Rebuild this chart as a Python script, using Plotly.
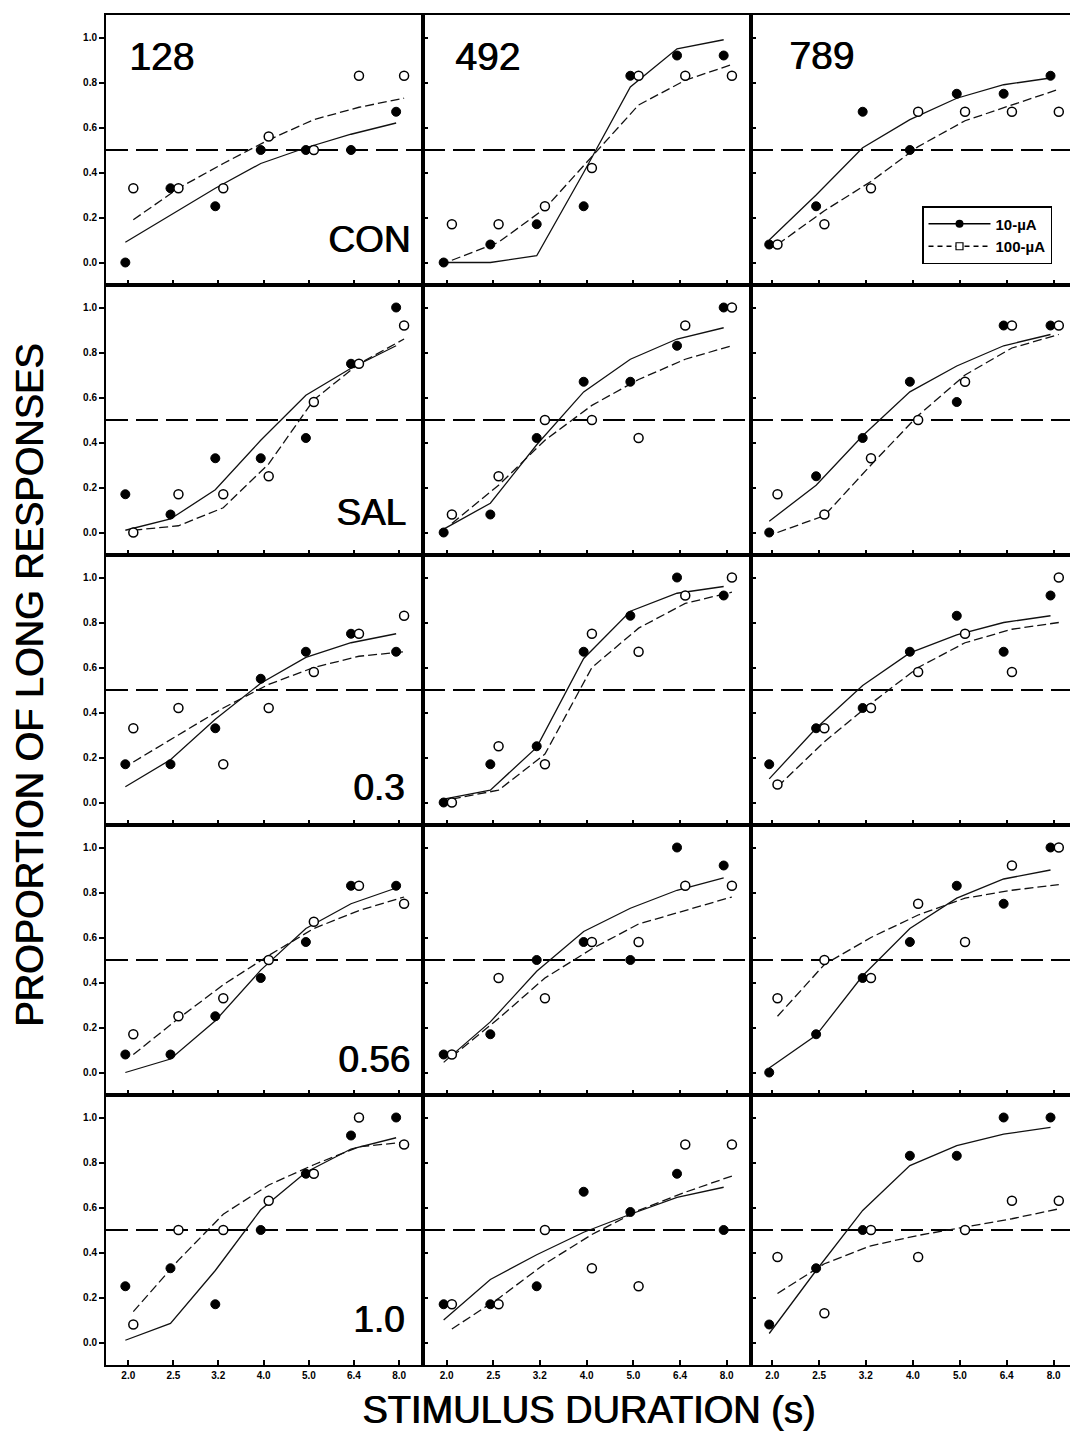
import math
import plotly.graph_objects as go
from plotly.subplots import make_subplots

# ---------------- data ----------------
durations = [2.0, 2.52, 3.17, 4.0, 5.04, 6.35, 8.0]
duration_ticktext = ["2.0", "2.5", "3.2", "4.0", "5.0", "6.4", "8.0"]
prop_ticks = [0.0, 0.2, 0.4, 0.6, 0.8, 1.0]
prop_ticktext = ["0.0", "0.2", "0.4", "0.6", "0.8", "1.0"]
rats = ["128", "492", "789"]
conditions = ["CON", "SAL", "0.3", "0.56", "1.0"]
series_names = ["10-µA", "100-µA"]
criterion = 0.5
bisection_point = 4.0

# observed proportions, per condition -> [rat 128, rat 492, rat 789]
obs10_CON = [[0.0, 0.33, 0.25, 0.5, 0.5, 0.5, 0.67],
             [0.0, 0.08, 0.17, 0.25, 0.83, 0.92, 0.92],
             [0.08, 0.25, 0.67, 0.5, 0.75, 0.75, 0.83]]
obs100_CON = [[0.33, 0.33, 0.33, 0.56, 0.5, 0.83, 0.83],
              [0.17, 0.17, 0.25, 0.42, 0.83, 0.83, 0.83],
              [0.08, 0.17, 0.33, 0.67, 0.67, 0.67, 0.67]]
fit10_CON = [[0.09, 0.21, 0.33, 0.44, 0.51, 0.57, 0.62],
             [0.0, 0.0, 0.03, 0.40, 0.78, 0.95, 0.99],
             [0.10, 0.30, 0.51, 0.635, 0.73, 0.79, 0.82]]
fit100_CON = [[0.19, 0.33, 0.44, 0.545, 0.635, 0.69, 0.73],
              [0.01, 0.09, 0.24, 0.47, 0.70, 0.81, 0.88],
              [0.08, 0.23, 0.36, 0.515, 0.63, 0.70, 0.77]]

obs10_SAL = [[0.17, 0.08, 0.33, 0.33, 0.42, 0.75, 1.0],
             [0.0, 0.08, 0.42, 0.67, 0.67, 0.83, 1.0],
             [0.0, 0.25, 0.42, 0.67, 0.58, 0.92, 0.92]]
obs100_SAL = [[0.0, 0.17, 0.17, 0.25, 0.58, 0.75, 0.92],
              [0.08, 0.25, 0.5, 0.5, 0.42, 0.92, 1.0],
              [0.17, 0.08, 0.33, 0.5, 0.67, 0.92, 0.92]]
fit10_SAL = [[0.01, 0.06, 0.19, 0.41, 0.61, 0.73, 0.83],
             [0.015, 0.13, 0.39, 0.625, 0.77, 0.86, 0.91],
             [0.05, 0.21, 0.43, 0.625, 0.74, 0.83, 0.88]]
fit100_SAL = [[0.01, 0.03, 0.11, 0.305, 0.59, 0.75, 0.86],
              [0.04, 0.21, 0.41, 0.565, 0.68, 0.77, 0.83],
              [0.0, 0.075, 0.30, 0.52, 0.70, 0.82, 0.88]]

obs10_03 = [[0.17, 0.17, 0.33, 0.55, 0.67, 0.75, 0.67],
            [0.0, 0.17, 0.25, 0.67, 0.83, 1.0, 0.92],
            [0.17, 0.33, 0.42, 0.67, 0.83, 0.67, 0.92]]
obs100_03 = [[0.33, 0.42, 0.17, 0.42, 0.58, 0.75, 0.83],
             [0.0, 0.25, 0.17, 0.75, 0.67, 0.92, 1.0],
             [0.08, 0.33, 0.42, 0.58, 0.75, 0.58, 1.0]]
fit10_03 = [[0.07, 0.19, 0.37, 0.53, 0.645, 0.71, 0.75],
            [0.015, 0.055, 0.245, 0.64, 0.85, 0.93, 0.96],
            [0.105, 0.33, 0.52, 0.665, 0.745, 0.80, 0.83]]
fit100_03 = [[0.18, 0.30, 0.42, 0.525, 0.60, 0.65, 0.67],
             [0.015, 0.055, 0.215, 0.60, 0.775, 0.885, 0.935],
             [0.07, 0.27, 0.44, 0.60, 0.71, 0.77, 0.80]]

obs10_056 = [[0.08, 0.08, 0.25, 0.42, 0.58, 0.83, 0.83],
             [0.08, 0.17, 0.5, 0.58, 0.5, 1.0, 0.92],
             [0.0, 0.17, 0.42, 0.58, 0.83, 0.75, 1.0]]
obs100_056 = [[0.17, 0.25, 0.33, 0.5, 0.67, 0.83, 0.75],
              [0.08, 0.42, 0.33, 0.58, 0.58, 0.83, 0.83],
              [0.33, 0.5, 0.42, 0.75, 0.58, 0.92, 1.0]]
fit10_056 = [[0.0, 0.06, 0.23, 0.455, 0.64, 0.75, 0.82],
             [0.045, 0.225, 0.45, 0.627, 0.73, 0.81, 0.865],
             [0.02, 0.165, 0.43, 0.64, 0.775, 0.86, 0.90]]
fit100_056 = [[0.08, 0.24, 0.39, 0.52, 0.64, 0.72, 0.78],
              [0.07, 0.24, 0.42, 0.55, 0.66, 0.72, 0.78],
              [0.25, 0.48, 0.60, 0.70, 0.775, 0.81, 0.835]]

obs10_10 = [[0.25, 0.33, 0.17, 0.5, 0.75, 0.92, 1.0],
            [0.17, 0.17, 0.25, 0.67, 0.58, 0.75, 0.5],
            [0.08, 0.33, 0.5, 0.83, 0.83, 1.0, 1.0]]
obs100_10 = [[0.08, 0.5, 0.5, 0.63, 0.75, 1.0, 0.88],
             [0.17, 0.17, 0.5, 0.33, 0.25, 0.88, 0.88],
             [0.38, 0.13, 0.5, 0.38, 0.5, 0.63, 0.63]]
fit10_10 = [[0.01, 0.085, 0.32, 0.59, 0.757, 0.86, 0.91],
            [0.10, 0.28, 0.39, 0.49, 0.57, 0.645, 0.69],
            [0.04, 0.32, 0.587, 0.786, 0.875, 0.926, 0.956]]
fit100_10 = [[0.137, 0.366, 0.57, 0.70, 0.79, 0.87, 0.89],
             [0.06, 0.196, 0.35, 0.48, 0.587, 0.668, 0.74],
             [0.218, 0.35, 0.43, 0.476, 0.513, 0.55, 0.594]]

obs10 = [obs10_CON, obs10_SAL, obs10_03, obs10_056, obs10_10]
obs100 = [obs100_CON, obs100_SAL, obs100_03, obs100_056, obs100_10]
fit10 = [fit10_CON, fit10_SAL, fit10_03, fit10_056, fit10_10]
fit100 = [fit100_CON, fit100_SAL, fit100_03, fit100_056, fit100_10]

# ---------------- layout geometry (pixels / domain fractions) ----------------
W, H = 1070, 1443
col_px = [(106, 423), (423, 751), (751, 1070)]
row_top0, row_h = 15, 270
col_steps = [(-0.494, 6.53), (-0.508, 6.52), (-0.454, 6.35)]
lstep = math.log10(2) / 3
lbase = math.log10(2)
shift10 = 0.985   # filled symbols drawn slightly left
shift100 = 1.026  # open symbols drawn slightly right
rat_label_pos = [(0.066, 0.845), (0.090, 0.845), (0.112, 0.85)]
cond_label_pos = [(0.966, 0.085), (0.953, 0.074), (0.946, 0.056),
                  (0.965, 0.048), (0.946, 0.085)]

FONT = "Liberation Sans, Arial, Helvetica, sans-serif"
HEAVY = "0.9px 0px 0px black"

fig = make_subplots(rows=5, cols=3, horizontal_spacing=0, vertical_spacing=0)

for r in range(5):
    for c in range(3):
        k = r * 3 + c + 1
        xs10 = [d * shift10 for d in durations]
        xs100 = [d * shift100 for d in durations]
        fig.add_trace(go.Scatter(x=xs100, y=fit100[r][c], mode="lines",
                                 line=dict(color="#111", width=1.3, dash="9px,4px"),
                                 showlegend=False, hoverinfo="skip"), row=r + 1, col=c + 1)
        fig.add_trace(go.Scatter(x=xs10, y=fit10[r][c], mode="lines",
                                 line=dict(color="#111", width=1.3),
                                 showlegend=False, hoverinfo="skip"), row=r + 1, col=c + 1)
        fig.add_trace(go.Scatter(x=xs10, y=obs10[r][c], mode="markers",
                                 marker=dict(symbol="circle", size=9, color="black",
                                             line=dict(color="black", width=1)),
                                 showlegend=False), row=r + 1, col=c + 1)
        fig.add_trace(go.Scatter(x=xs100, y=obs100[r][c], mode="markers",
                                 marker=dict(symbol="circle", size=9, color="white",
                                             line=dict(color="black", width=1.5)),
                                 showlegend=False), row=r + 1, col=c + 1)

        xa = "xaxis" if k == 1 else f"xaxis{k}"
        ya = "yaxis" if k == 1 else f"yaxis{k}"
        x0p, x1p = col_px[c]
        top = row_top0 + r * row_h
        bot = top + row_h
        s0, s1 = col_steps[c]
        fig.layout[xa].update(
            type="log", domain=[x0p / W, x1p / W],
            range=[lbase + s0 * lstep, lbase + s1 * lstep],
            tickvals=durations, ticktext=duration_ticktext,
            ticks="inside", ticklen=5, tickwidth=1.5, tickcolor="black",
            showticklabels=(r == 4),
            tickfont=dict(family=FONT, size=10, color="black", weight="bold"),
            showline=True, linecolor="black", linewidth=2.2, mirror=True,
            showgrid=False, zeroline=False)
        fig.layout[ya].update(
            domain=[1 - bot / H, 1 - top / H], range=[-0.1, 1.1],
            tickvals=prop_ticks, ticktext=prop_ticktext,
            ticks="outside" if c == 0 else "inside", ticklen=5, tickwidth=1.5,
            tickcolor="black", showticklabels=(c == 0),
            tickfont=dict(family=FONT, size=10, color="black", weight="bold"),
            showline=True, linecolor="black", linewidth=2, mirror=(c != 2),
            showgrid=False, zeroline=False)

        xr = "x" if k == 1 else f"x{k}"
        yr = "y" if k == 1 else f"y{k}"
        fig.add_shape(type="line", xref=f"{xr} domain", yref=yr, x0=0, x1=1,
                      y0=criterion, y1=criterion,
                      line=dict(color="black", width=2, dash="22px,8px"), layer="below")
        fig.add_shape(type="line", xref=xr, yref=f"{yr} domain",
                      x0=math.log10(bisection_point), x1=math.log10(bisection_point),
                      y0=0, y1=1,
                      line=dict(color="black", width=2, dash="22px,8px"), layer="below")

        if r == 0:
            lx, ly = rat_label_pos[c]
            fig.add_annotation(xref=f"{xr} domain", yref=f"{yr} domain",
                               x=lx, y=ly, xanchor="left", yanchor="middle",
                               text=rats[c], showarrow=False,
                               font=dict(family=FONT, size=39, color="black", shadow=HEAVY))
        if c == 0:
            lx, ly = cond_label_pos[r]
            fig.add_annotation(xref=f"{xr} domain", yref=f"{yr} domain",
                               x=lx, y=ly, xanchor="right", yanchor="bottom",
                               text=conditions[r], showarrow=False,
                               font=dict(family=FONT, size=37, color="black", shadow=HEAVY))

# legend entries
fig.add_trace(go.Scatter(x=[None], y=[None], mode="lines+markers", name=series_names[0],
                         line=dict(color="black", width=1.3),
                         marker=dict(symbol="circle", size=8, color="black")), row=1, col=3)
fig.add_trace(go.Scatter(x=[None], y=[None], mode="lines+markers", name=series_names[1],
                         line=dict(color="black", width=1.3, dash="5px,4px"),
                         marker=dict(symbol="square", size=7, color="white",
                                     line=dict(color="black", width=1.2))), row=1, col=3)

fig.add_annotation(xref="paper", yref="paper", x=30 / W, y=1 - 686 / H,
                   text="PROPORTION OF LONG RESPONSES", textangle=-90, showarrow=False,
                   xanchor="center", yanchor="middle",
                   font=dict(family=FONT, size=38, color="black", shadow=HEAVY))
fig.add_annotation(xref="paper", yref="paper", x=588 / W, y=1 - 1410 / H,
                   text="STIMULUS DURATION (s)", showarrow=False,
                   xanchor="center", yanchor="middle",
                   font=dict(family=FONT, size=38, color="black", shadow=HEAVY))

fig.update_layout(
    width=W, height=H, margin=dict(l=0, r=0, t=0, b=0),
    paper_bgcolor="white", plot_bgcolor="white",
    showlegend=True,
    legend=dict(x=922 / W, y=1 - 206 / H, xanchor="left", yanchor="top",
                bgcolor="white", bordercolor="black", borderwidth=1.5,
                font=dict(family=FONT, size=15, color="black", weight="bold"),
                itemwidth=62, tracegroupgap=0, traceorder="normal"),
)

fig.write_html("out.html")
